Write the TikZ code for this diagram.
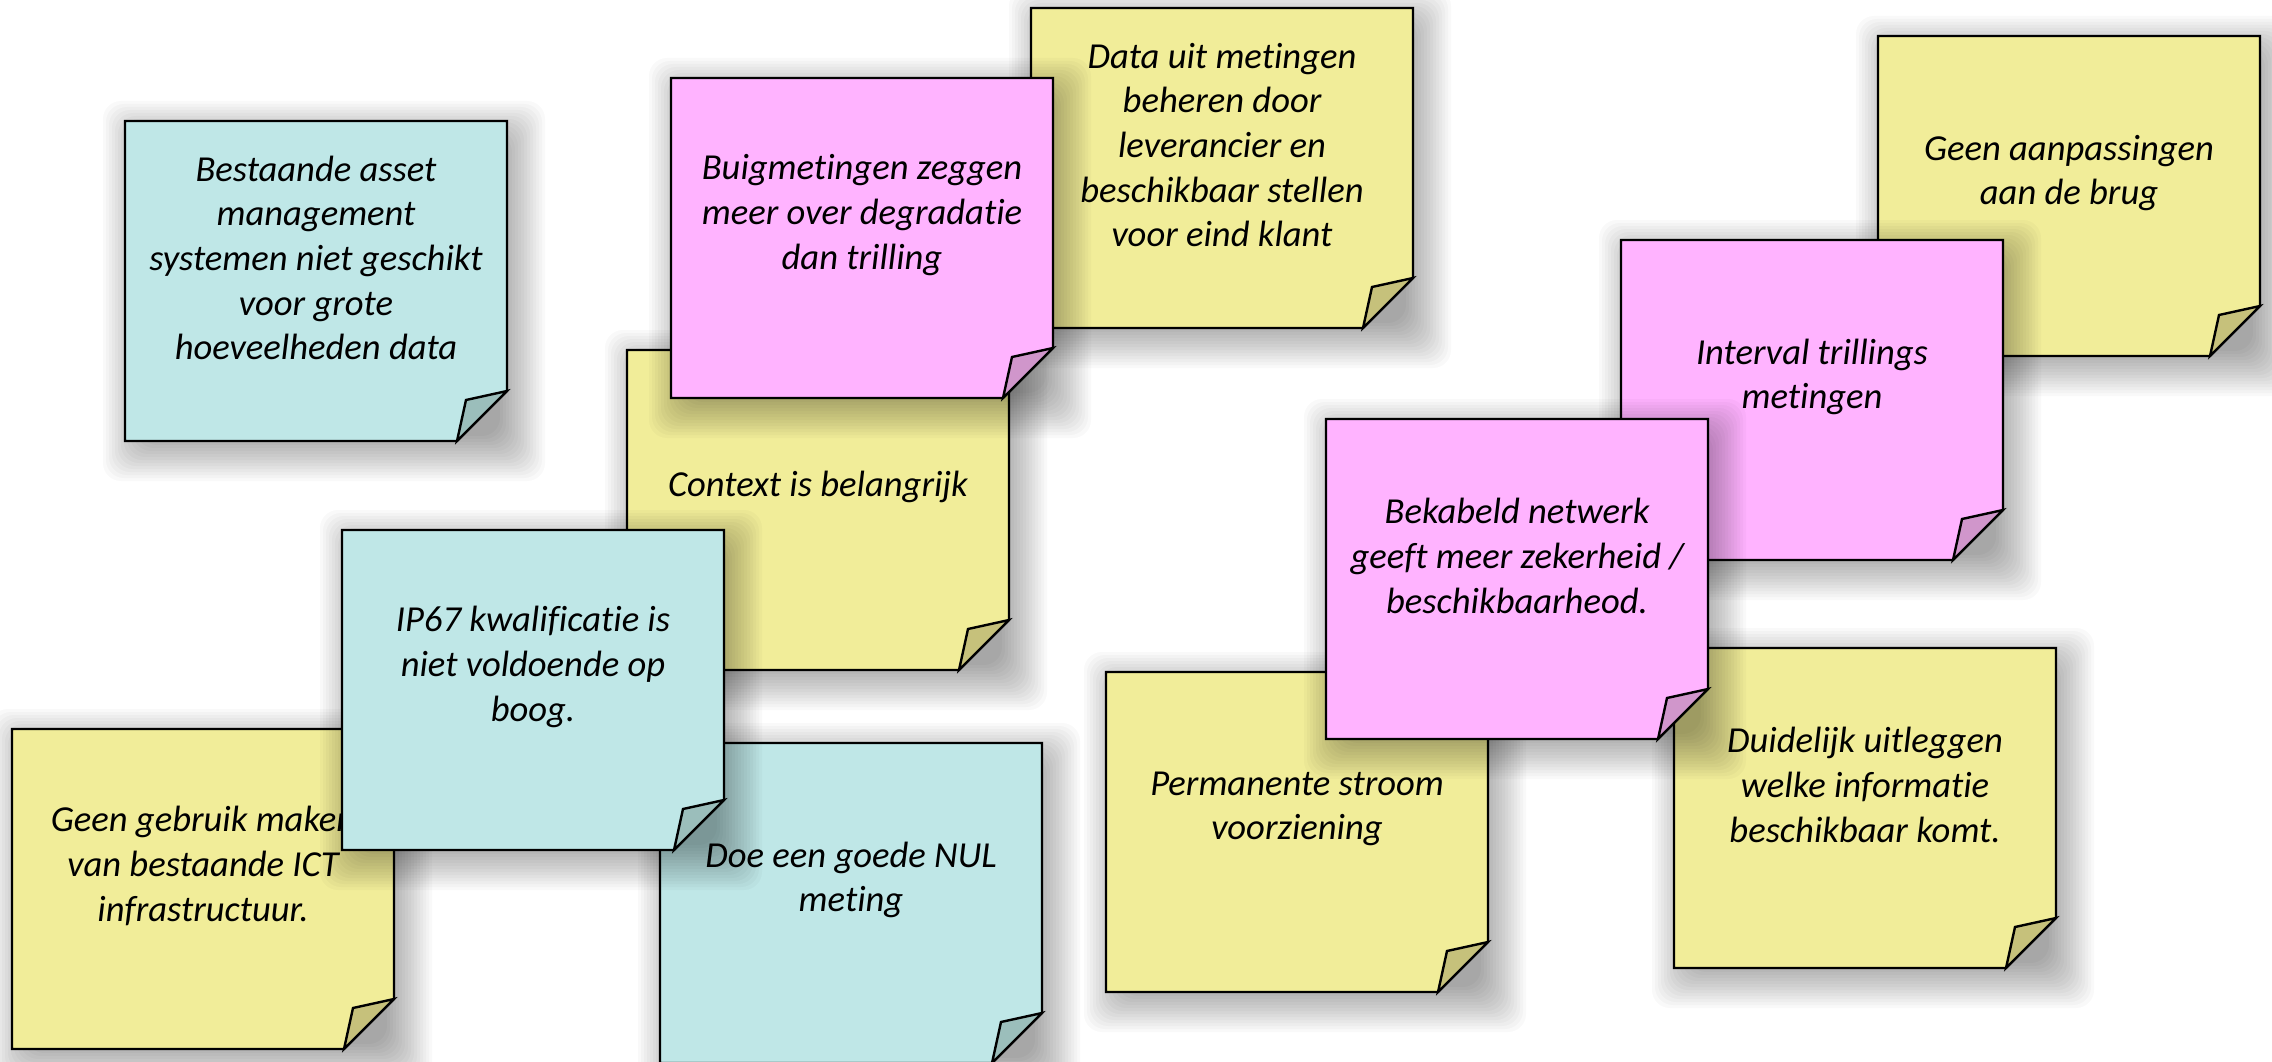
\documentclass[tikz,border=0pt]{standalone}
\usepackage{fontspec}
\setmainfont{Carlito}[Ligatures=NoCommon]
\definecolor{bluefill}{HTML}{BFE7E7}
\definecolor{bluefold}{HTML}{9BBEBB}
\definecolor{yellowfill}{HTML}{F1ED99}
\definecolor{yellowfold}{HTML}{C6C17B}
\definecolor{pinkfill}{HTML}{FFB3FF}
\definecolor{pinkfold}{HTML}{D096CB}
\tikzset{
  shadowlayer/.style={fill=black, fill opacity=0.022, rounded corners=18pt},
  notebody/.style={draw=black, line width=2.4pt, line join=miter},
  notefold/.style={draw=black, line width=2.4pt, line join=miter},
  notetext/.style={align=center, inner sep=0pt, text=black,
    font=\fontsize{36.6}{44.6}\selectfont\itshape},
}
% #1 name, #2 left, #3 top, #4 colour prefix, #5 text
\newcommand\stickynote[5]{%
  \foreach \e in {-15,-12,...,30}
    \path[shadowlayer] ({#2+8-\e},{#3+10-\e}) rectangle ({#2+390+\e},{#3+330+\e});
  \path[notebody, fill=#4fill] (#2,#3) -- ++(382,0) -- ++(0,270) -- ++(-50,50) -- ++(-332,0) -- cycle;
  \path[notefold, fill=#4fold] ({#2+382},{#3+270}) -- ({#2+341},{#3+279}) -- ({#2+332},{#3+320}) -- cycle;
  \node[notetext] (#1) at ({#2+191},{#3+137}) {#5};
}
\begin{document}
\begin{tikzpicture}[x=1pt,y=-1pt]
\fill[white] (0,0) rectangle (2272,1062);
\useasboundingbox (0,0) rectangle (2272,1062);
\stickynote{bestaande}{125}{121}{blue}{Bestaande asset\\management\\systemen niet geschikt\\voor grote\\hoeveelheden data}
\stickynote{data}{1031}{8}{yellow}{Data uit metingen\\beheren door\\leverancier en\\beschikbaar stellen\\voor eind klant}
\stickynote{context}{627}{350}{yellow}{Context is belangrijk}
\stickynote{buig}{671}{78}{pink}{Buigmetingen zeggen\\meer over degradatie\\dan trilling}
\stickynote{gebruik}{12}{729}{yellow}{Geen gebruik maken\\van bestaande ICT\\infrastructuur.}
\stickynote{nul}{660}{743}{blue}{Doe een goede NUL\\meting}
\stickynote{ip}{342}{530}{blue}{IP67 kwalificatie is\\niet voldoende op\\boog.}
\stickynote{brug}{1878}{36}{yellow}{Geen aanpassingen\\aan de brug}
\stickynote{interval}{1621}{240}{pink}{Interval trillings\\metingen}
\stickynote{stroom}{1106}{672}{yellow}{Permanente stroom\\voorziening}
\stickynote{uitleg}{1674}{648}{yellow}{Duidelijk uitleggen\\welke informatie\\beschikbaar komt.}
\stickynote{netwerk}{1326}{419}{pink}{Bekabeld netwerk\\geeft meer zekerheid /\\beschikbaarheod.}
\end{tikzpicture}
\end{document}
